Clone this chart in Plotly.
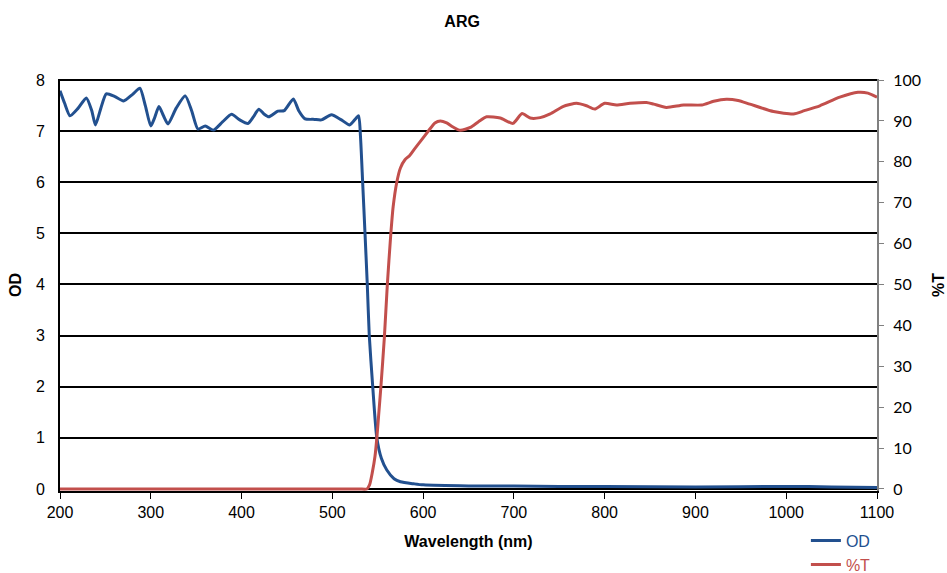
import plotly.graph_objects as go

# OD series
wl_od = [200, 205, 211, 220, 229, 235, 239, 245, 251, 260, 270, 280, 288, 294, 300, 304, 309, 314, 319,
         328, 338, 345, 352, 360, 369, 379, 389, 398, 407, 413, 419, 425, 430, 440, 447, 457, 463, 470,
         480, 488, 499, 510, 519, 526, 529, 531, 533.4, 536, 538.5, 540.7, 544.5, 549, 554, 560, 568,
         575, 590, 600, 650, 700, 750, 800, 900, 1000, 1050, 1100]
od = [7.79, 7.55, 7.30, 7.45, 7.65, 7.40, 7.12, 7.45, 7.73, 7.68, 7.59, 7.72, 7.84, 7.50, 7.10, 7.25,
      7.48, 7.30, 7.14, 7.45, 7.69, 7.40, 7.04, 7.10, 7.02, 7.18, 7.33, 7.22, 7.15, 7.28, 7.43, 7.33,
      7.28, 7.39, 7.40, 7.63, 7.40, 7.24, 7.23, 7.22, 7.32, 7.22, 7.12, 7.25, 7.30, 6.9, 6.0, 5.0, 4.0,
      3.0, 2.0, 1.0, 0.6, 0.37, 0.2, 0.14, 0.10, 0.08, 0.06, 0.06, 0.05, 0.05, 0.04, 0.05, 0.04, 0.03]

# %T series
wl_t = [200, 300, 400, 500, 530, 538, 541, 544, 547, 549, 551, 553.5, 557.3, 560.6, 564.3, 567, 571,
        575, 580, 585, 590, 597, 606, 613, 619, 626, 633, 641, 652, 661, 670, 685, 699, 709, 718, 729,
        740, 754, 769, 780, 789, 800, 813, 828, 846, 854, 868, 887, 907, 920, 934, 947, 960, 986, 1008,
        1020, 1037, 1059, 1079, 1090, 1100]
pct_t = [0, 0, 0, 0, 0, 0, 1, 4, 8, 12.4, 18, 25, 37, 50, 62, 69, 75, 78.5, 80.5, 81.5, 83, 85, 87.6,
         89.5, 90, 89.5, 88.5, 87.7, 88.4, 89.8, 91, 90.7, 89.4, 91.8, 90.7, 90.8, 91.7, 93.5, 94.3,
         93.7, 92.9, 94.3, 93.9, 94.3, 94.5, 94.1, 93.3, 93.9, 93.9, 94.8, 95.3, 95.0, 94.1, 92.3, 91.7,
         92.5, 93.7, 95.8, 97.0, 96.8, 95.8]

x_ticks = [200, 300, 400, 500, 600, 700, 800, 900, 1000, 1100]
od_ticks = [0, 1, 2, 3, 4, 5, 6, 7, 8]
t_ticks = [0, 10, 20, 30, 40, 50, 60, 70, 80, 90, 100]

BLUE = "#22508f"
RED = "#c24f4c"

fig = go.Figure()
fig.add_trace(go.Scatter(x=wl_od, y=od, mode="lines", name=f"<span style='color:{BLUE}'>OD</span>",
                         line=dict(color=BLUE, width=3, shape="spline", smoothing=0.6)))
fig.add_trace(go.Scatter(x=wl_t, y=pct_t, mode="lines", name=f"<span style='color:{RED}'>%T</span>",
                         yaxis="y2",
                         line=dict(color=RED, width=3, shape="spline", smoothing=0.6)))

fig.update_layout(
    width=947, height=573,
    margin=dict(l=60, r=70, t=79, b=82, autoexpand=False),
    paper_bgcolor="white", plot_bgcolor="white",
    font=dict(family="Liberation Sans, Arial, sans-serif", size=16, color="black"),
    title=dict(text="<b>ARG</b>", x=0.488, xanchor="center", y=0.962, yanchor="middle",
               font=dict(size=16, color="black")),
    xaxis=dict(range=[200, 1100], tickvals=x_ticks, showgrid=False, showline=True,
               linecolor="black", linewidth=2, ticks="outside", ticklen=6, tickcolor="black",
               layer="below traces", automargin=True,
               title=dict(text="<b>Wavelength (nm)</b>", standoff=16, font=dict(size=16)),
               zeroline=False),
    yaxis=dict(range=[-0.04, 8.02], tickvals=od_ticks, showgrid=True, gridcolor="black", gridwidth=1.5,
               showline=True, linecolor="black", linewidth=2, ticks="", zeroline=False,
               layer="below traces", automargin=True, ticklabelstandoff=10,
               title=dict(text="<b>OD</b>", standoff=10, font=dict(size=16))),
    yaxis2=dict(range=[-0.5, 100.25], tickvals=t_ticks, overlaying="y", side="right", showgrid=False,
                showline=True, linecolor="#808080", linewidth=2, ticks="outside", ticklen=5,
                tickcolor="#808080", zeroline=False, layer="below traces", automargin=True,
                ticklabelstandoff=6,
                tickfont=dict(family="Lato, sans-serif", size=16)),
    annotations=[dict(text="<b>%T</b>", xref="paper", yref="paper", x=1.0747, y=0.5,
                      xanchor="center", yanchor="middle", textangle=-90, showarrow=False,
                      font=dict(size=16, color="black"))],
    showlegend=True,
    legend=dict(xref="container", yref="container", x=0.851, xanchor="left", y=0.086,
                yanchor="top", bgcolor="rgba(0,0,0,0)",
                font=dict(family="Liberation Sans, Arial, sans-serif", size=16),
                tracegroupgap=0, itemwidth=30),
)

fig.write_html("out.html")
